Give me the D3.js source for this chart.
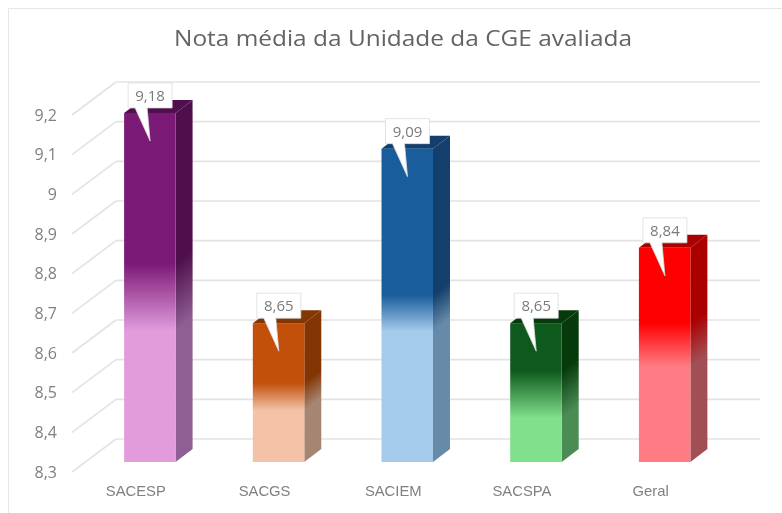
<!DOCTYPE html>
<html><head><meta charset="utf-8">
<script src="https://cdn.jsdelivr.net/npm/d3@7"></script>
<style>
html,body{margin:0;padding:0;background:#fff}
svg{display:block;filter:blur(0.6px)}
text{font-family:"Open Sans",sans-serif}
</style></head><body>
<svg id="c" width="782" height="513"></svg>
<script>
const categories=["SACESP","SACGS","SACIEM","SACSPA","Geral"];
const values=[9.18,8.65,9.09,8.65,8.84];
const labels=["9,18","8,65","9,09","8,65","8,84"];
const yTicks=[8.3,8.4,8.5,8.6,8.7,8.8,8.9,9,9.1,9.2];
const fadeTop=[8.8,8.5,8.72,8.53,8.65];
const fadeBottom=[8.63,8.43,8.63,8.41,8.54];
const darkFront=["#7b1a76","#c24f0a","#1a5d9c","#0e5a1c","#ff0000"];
const lightFront=["#e29cdc","#f3c2a7","#a4caec","#80e08c","#ff7c84"];
const darkSide=["#4f0f4c","#843504","#123f6c","#063a0c","#aa0000"];
const lightSide=["#8f5f93","#a58672","#668aa8","#4a8c54","#a24e55"];

const svg=d3.select("#c");
const y=d3.scaleLinear().domain([8.3,9.2]).range([439,82]);
const x=d3.scaleBand().domain(categories).range([85.5,729]).paddingInner(0.6).paddingOuter(0.3);
const frontDy=23,depthX=17,depthY=13;
const rows=categories.map((c,i)=>({c,i,v:values[i],l:labels[i]}));

// frame
svg.append("path").attr("d","M8.5,513V8.5H782").attr("fill","none").attr("stroke","#e6e6e6").attr("stroke-width",1);

svg.append("text").attr("x",174).attr("y",46)
  .attr("textLength",458).attr("lengthAdjust","spacingAndGlyphs")
  .attr("font-size",22.5).attr("fill","#636363").text("Nota média da Unidade da CGE avaliada");

// grid
const g=svg.append("g").attr("stroke","#e3e3e3").attr("stroke-width",1.6).attr("fill","none");
g.selectAll("line.h").data(yTicks).join("line").attr("class","h")
  .attr("x1",116).attr("x2",760).attr("y1",d=>y(d)).attr("y2",d=>y(d));
g.selectAll("line.s").data(yTicks).join("line").attr("class","s")
  .attr("x1",72).attr("x2",116).attr("y1",d=>y(d)+33).attr("y2",d=>y(d));

// y axis
const ax=svg.append("g").attr("transform","translate(63,33)")
  .call(d3.axisLeft(y).tickValues(yTicks).tickSize(0).tickPadding(6)
    .tickFormat(d=>String(d).replace(".",",")));
ax.select(".domain").remove();
ax.selectAll("text").attr("font-size",16).attr("fill","#808080").attr("font-family","Open Sans, sans-serif");

// x labels
svg.append("g").selectAll("text").data(rows).join("text")
  .attr("x",d=>x(d.c)+x.bandwidth()/2-14).attr("y",496).attr("text-anchor","middle")
  .attr("font-size",14.8).attr("fill","#808080").style("font-family","'Liberation Sans',sans-serif").text(d=>d.c);

// gradients
const defs=svg.append("defs");
const bw=x.bandwidth();
function grad(id,d,dark,light,skew){
  const lg=defs.append("linearGradient").attr("id",id).attr("gradientUnits","userSpaceOnUse")
    .attr("x1",0).attr("x2",0).attr("y1",y(fadeTop[d.i])+frontDy).attr("y2",y(fadeBottom[d.i])+frontDy);
  if(skew){const l=x(d.c)+bw;lg.attr("gradientTransform",`translate(${l},0) skewY(-37.4) translate(${-l},0)`);}
  lg.append("stop").attr("offset",0).attr("stop-color",dark[d.i]);
  lg.append("stop").attr("offset",1).attr("stop-color",light[d.i]);
}
rows.forEach(d=>{grad("f"+d.i,d,darkFront,lightFront,false);grad("s"+d.i,d,darkSide,lightSide,true);});

// bars
const bars=svg.append("g").selectAll("g").data(rows).join("g");
const poly=pts=>pts.map(p=>p.join(",")).join(" ");
bars.append("polygon").attr("points",d=>{
  const l=x(d.c)+bw,t=y(d.v)+frontDy,b=y(8.3)+frontDy;
  return poly([[l,t],[l+depthX,t-depthY],[l+depthX,b-depthY],[l,b]]);
}).attr("fill",d=>`url(#s${d.i})`);
bars.append("polygon").attr("points",d=>{
  const l=x(d.c),t=y(d.v)+frontDy;
  return poly([[l,t],[l+depthX,t-depthY],[l+bw+depthX,t-depthY],[l+bw,t]]);
}).attr("fill",d=>darkSide[d.i]);
bars.append("rect").attr("x",d=>x(d.c)).attr("y",d=>y(d.v)+frontDy).attr("width",bw)
  .attr("height",d=>y(8.3)-y(d.v)).attr("fill",d=>`url(#f${d.i})`);

// callouts
const tips=svg.append("g").selectAll("g").data(rows).join("g")
  .attr("transform",d=>`translate(${x(d.c)},${y(d.v)+frontDy})`);
tips.append("path").attr("d","M4,-30H48V-5H23L26,28L11,-5H4Z").attr("fill","#fff")
  .attr("stroke","#dcdcdc").attr("stroke-width",0.8).attr("stroke-linejoin","round");
tips.append("text").attr("x",26).attr("y",-12).attr("text-anchor","middle")
  .attr("font-size",15).attr("fill","#7a7a7a").text(d=>d.l);
</script>
</body></html>
